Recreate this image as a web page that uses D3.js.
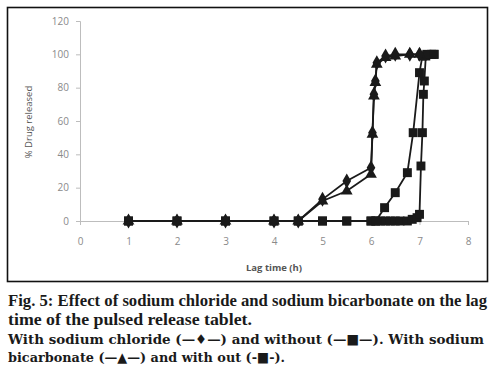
<!DOCTYPE html>
<html>
<head>
<meta charset="utf-8">
<script src="https://cdn.jsdelivr.net/npm/d3@7"></script>
<style>
  body { margin: 0; background: #fff; }
  svg { display: block; }
</style>
</head>
<body>
<div id="chart"></div>
<script>
// lag time (h) and % drug released
const timesAdd = [1, 2, 3, 4, 4.5, 5, 5.5, 6, 6.03, 6.06, 6.09, 6.12, 6.3, 6.5, 6.8, 7.0];
const withNaCl = [0, 0, 0, 0, 0, 13, 24, 32, 53, 76, 84, 95, 99, 100, 100, 100];
const withBicarb = [0, 0, 0, 0, 0, 12, 18, 28, 52, 75, 83, 94, 98, 99, 100, 100];

const timesNoNaCl = [1, 2, 3, 4, 4.5, 5, 5.5, 6, 6.1, 6.28, 6.5, 6.75, 6.87, 7.0, 7.06, 7.15, 7.3];
const withoutNaCl = [0, 0, 0, 0, 0, 0, 0, 0, 0, 8, 17, 29, 53, 89, 99, 100, 100];

const timesNoBicarb = [1, 2, 3, 4, 4.5, 5, 5.5, 6, 6.1, 6.2, 6.3, 6.4, 6.5, 6.6, 6.75, 6.85, 6.95, 7.0, 7.03, 7.06, 7.08, 7.1, 7.13, 7.25, 7.3];
const withoutBicarb = [0, 0, 0, 0, 0, 0, 0, 0, 0, 0, 0, 0, 0, 0, 0, 1, 2, 4, 33, 53, 76, 84, 99, 100, 100];

const xTicks = [0, 1, 2, 3, 4, 5, 6, 7, 8];
const yTicks = [0, 20, 40, 60, 80, 100, 120];

const captionLines = [
  'Fig. 5: Effect of sodium chloride and sodium bicarbonate on the lag',
  'time of the pulsed release tablet.',
  'With sodium chloride (\u2014\u2666\u2014) and without (\u2014\u25A0\u2014). With sodium',
  'bicarbonate (\u2014\u25B2\u2014) and with out (-\u25A0-).'
];

const series = [
  { t: timesNoBicarb, v: withoutBicarb, symbol: d3.symbolSquare, size: 80 },
  { t: timesNoNaCl, v: withoutNaCl, symbol: d3.symbolSquare, size: 80 },
  { t: timesAdd, v: withBicarb, symbol: d3.symbolTriangle, size: 60 },
  { t: timesAdd, v: withNaCl, symbol: d3.symbolDiamond, size: 65 }
];

const width = 500;
const height = 375;

const svg = d3.select('#chart').append('svg')
  .attr('width', width)
  .attr('height', height);

// frame around the chart
svg.append('rect')
  .attr('x', 7.5)
  .attr('y', 7.5)
  .attr('width', 480)
  .attr('height', 274)
  .attr('fill', 'none')
  .attr('stroke', '#111')
  .attr('stroke-width', 1.6);

const x = d3.scaleLinear().domain([0, 8]).range([80, 468]);
const y = d3.scaleLinear().domain([0, 120]).range([221, 21]);

const axisColor = '#bdbdbd';
const labelColor = '#8a8a8a';

// y axis
const yAxis = svg.append('g')
  .attr('transform', `translate(${x(0)},0)`)
  .call(d3.axisLeft(y).tickValues(yTicks).tickSize(4).tickPadding(7));
yAxis.select('.domain').attr('stroke', axisColor);
yAxis.selectAll('.tick line').attr('stroke', axisColor);
yAxis.selectAll('.tick text')
  .attr('fill', labelColor)
  .style('font-family', 'Open Sans, sans-serif')
  .style('font-size', '10px');

// x axis sits on 0
const xAxis = svg.append('g')
  .attr('transform', `translate(0,${y(0)})`)
  .call(d3.axisBottom(x).tickValues(xTicks).tickSize(4).tickPadding(13).tickSizeOuter(0));
xAxis.select('.domain').attr('stroke', axisColor);
xAxis.selectAll('.tick line').attr('stroke', axisColor);
xAxis.selectAll('.tick text')
  .attr('fill', labelColor)
  .style('font-family', 'Open Sans, sans-serif')
  .style('font-size', '10px');

svg.append('text')
  .attr('x', 274)
  .attr('y', 271)
  .attr('text-anchor', 'middle')
  .attr('fill', '#555')
  .style('font-family', 'Open Sans, sans-serif')
  .style('font-size', '9.5px')
  .style('font-weight', 'bold')
  .text('Lag time (h)');

svg.append('text')
  .attr('transform', 'translate(32,122) rotate(-90)')
  .attr('text-anchor', 'middle')
  .attr('fill', '#555')
  .style('font-family', 'Open Sans, sans-serif')
  .style('font-size', '9.5px')
  .text('% Drug released');

const line = d3.line()
  .x(d => x(d[0]))
  .y(d => y(d[1]));

series.forEach((s) => {
  const pts = s.t.map((t, i) => [t, s.v[i]]);

  svg.append('path')
    .datum(pts)
    .attr('d', line)
    .attr('fill', 'none')
    .attr('stroke', '#1a1a1a')
    .attr('stroke-width', 1.8);

  svg.append('g').selectAll('path')
    .data(pts)
    .enter()
    .append('path')
    .attr('transform', d => `translate(${x(d[0])},${y(d[1])})`)
    .attr('d', d3.symbol().type(s.symbol).size(s.size))
    .attr('fill', '#1a1a1a');
});

// caption
const capY = [306, 325, 343.5, 362];
const capFont = ['Liberation Serif', 'Liberation Serif', 'DejaVu Serif', 'DejaVu Serif'];
const capLen = [479, 244, 476, 277];
svg.selectAll('.caption')
  .data(captionLines)
  .enter()
  .append('text')
  .attr('class', 'caption')
  .attr('x', 8)
  .attr('y', (d, i) => capY[i])
  .attr('textLength', (d, i) => capLen[i])
  .attr('lengthAdjust', 'spacingAndGlyphs')
  .attr('fill', '#1a1a1a')
  .style('font-family', (d, i) => capFont[i])
  .style('font-size', (d, i) => (i < 2 ? '16px' : '13.5px'))
  .style('font-weight', 'bold')
  .text(d => d);
</script>
</body>
</html>
